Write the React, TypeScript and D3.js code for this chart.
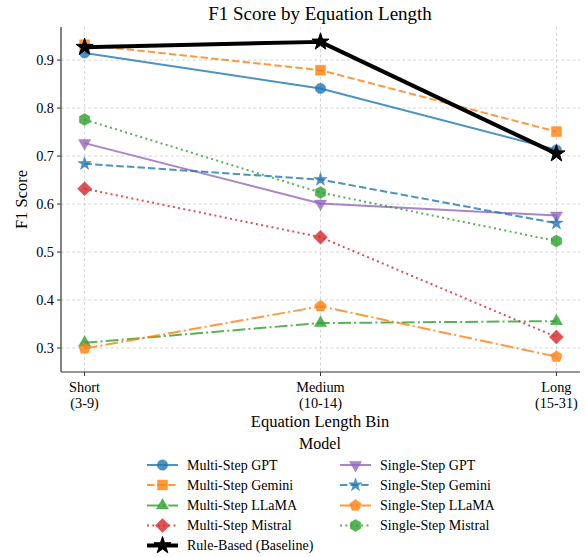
import React from "react";
import * as d3 from "d3";

const bins = ["Short\n(3-9)", "Medium\n(10-14)", "Long\n(15-31)"];
const yTicks = [0.3, 0.4, 0.5, 0.6, 0.7, 0.8, 0.9];

const multiGPT = [0.915, 0.841, 0.713];
const multiGemini = [0.932, 0.879, 0.751];
const multiLLaMA = [0.311, 0.352, 0.356];
const multiMistral = [0.632, 0.531, 0.323];
const singleGPT = [0.727, 0.601, 0.576];
const singleGemini = [0.684, 0.651, 0.560];
const singleLLaMA = [0.299, 0.387, 0.282];
const singleMistral = [0.776, 0.624, 0.523];
const ruleBased = [0.927, 0.938, 0.705];

const seriesNames = [
  "Multi-Step GPT",
  "Multi-Step Gemini",
  "Multi-Step LLaMA",
  "Multi-Step Mistral",
  "Single-Step GPT",
  "Single-Step Gemini",
  "Single-Step LLaMA",
  "Single-Step Mistral",
  "Rule-Based (Baseline)"
];
const seriesValues = [
  multiGPT, multiGemini, multiLLaMA, multiMistral,
  singleGPT, singleGemini, singleLLaMA, singleMistral, ruleBased
];

const blue = "#1f77b4";
const orange = "#ff7f0e";
const green = "#2ca02c";
const red = "#d62728";
const purple = "#9467bd";

const dashed = "7.4,3.2";
const dashdot = "12.8,3.2,2,3.2";
const dotted = "2,3.3";

const styles = [
  { color: blue, dash: null, marker: "circle" },
  { color: orange, dash: dashed, marker: "square" },
  { color: green, dash: dashdot, marker: "triUp" },
  { color: red, dash: dotted, marker: "diamond" },
  { color: purple, dash: null, marker: "triDown" },
  { color: blue, dash: dashed, marker: "star" },
  { color: orange, dash: dashdot, marker: "pentagon" },
  { color: green, dash: dotted, marker: "hexagon" },
  { color: "#000", dash: null, marker: "star", width: 4, big: true }
];

const font = "'Liberation Serif', 'Times New Roman', serif";

function polygon(n: number, r: number, rot: number) {
  const pts: string[] = [];
  for (let i = 0; i < n; i++) {
    const a = rot + (i * 2 * Math.PI) / n;
    pts.push(`${(r * Math.sin(a)).toFixed(2)},${(-r * Math.cos(a)).toFixed(2)}`);
  }
  return "M" + pts.join("L") + "Z";
}

function starPath(r: number) {
  const pts: string[] = [];
  const inner = r * 0.38;
  for (let i = 0; i < 10; i++) {
    const rr = i % 2 === 0 ? r : inner;
    const a = (i * Math.PI) / 5;
    pts.push(`${(rr * Math.sin(a)).toFixed(2)},${(-rr * Math.cos(a)).toFixed(2)}`);
  }
  return "M" + pts.join("L") + "Z";
}

function markerPath(kind: string, big?: boolean) {
  switch (kind) {
    case "circle": return d3.symbol(d3.symbolCircle, 85)()!;
    case "square": return polygon(4, 7, Math.PI / 4);
    case "diamond": return polygon(4, 7, 0);
    case "triUp": return polygon(3, 7, 0);
    case "triDown": return polygon(3, 7, Math.PI);
    case "pentagon": return polygon(5, 6, 0);
    case "hexagon": return polygon(6, 6, 0);
    case "star": return starPath(big ? 9 : 7);
  }
  return "";
}

const Marker = ({ x, y, s }: any) => (
  <path
    d={markerPath(s.marker, s.big)}
    transform={`translate(${x},${y})`}
    fill={s.color}
    fillOpacity={s.big ? 1 : 0.8}
    stroke={s.color}
    strokeOpacity={s.big ? 1 : 0.8}
    strokeWidth={s.big ? 1 : 0.5}
  />
);

export default function App() {
  const W = 585, H = 557;
  const left = 61, right = 580, top = 27, bottom = 372;
  const x = d3.scaleLinear().domain([-0.1, 2.1]).range([left, right]);
  const y = d3.scaleLinear().domain([0.25, 0.969]).range([bottom, top]);
  const line = d3.line<number>().x((_, i) => x(i)).y(d => y(d));

  const legendRows = [465, 485, 505.5, 525.5, 545.5];
  const legendCols = [147, 340];
  const legendPos = seriesNames.map((_, i) =>
    i < 4 ? [legendCols[0], legendRows[i]] : i < 8 ? [legendCols[1], legendRows[i - 4]] : [legendCols[0], legendRows[4]]
  );

  return (
    <svg width={W} height={H} style={{ position: "absolute", left: 0, top: 0 }} fontFamily={font}>
      <rect width={W} height={H} fill="#fff" />
      <text x={320} y={20} textAnchor="middle" fontSize={19}>F1 Score by Equation Length</text>

      {yTicks.map(t => (
        <line key={"gy" + t} x1={left} x2={right} y1={y(t)} y2={y(t)} stroke="#ccc" strokeWidth={0.8} strokeDasharray="3,2.5" />
      ))}
      {bins.map((_, i) => (
        <line key={"gx" + i} x1={x(i)} x2={x(i)} y1={top} y2={bottom} stroke="#ccc" strokeWidth={0.8} strokeDasharray="3,2.5" />
      ))}

      {seriesValues.map((vals, k) => {
        const s = styles[k];
        return (
          <g key={k}>
            <path
              d={line(vals)!}
              fill="none"
              stroke={s.color}
              strokeOpacity={s.big ? 1 : 0.8}
              strokeWidth={s.width || 2}
              strokeDasharray={s.dash || undefined}
              strokeLinejoin="round"
            />
            {vals.map((v, i) => <Marker key={i} x={x(i)} y={y(v)} s={s} />)}
          </g>
        );
      })}

      <line x1={left} x2={left} y1={top} y2={bottom} stroke="#333" strokeWidth={1.2} />
      <line x1={left} x2={right} y1={bottom} y2={bottom} stroke="#333" strokeWidth={1.2} />

      {yTicks.map(t => (
        <g key={"ty" + t}>
          <line x1={left - 4} x2={left} y1={y(t)} y2={y(t)} stroke="#333" />
          <text x={left - 7} y={y(t)} dy="0.35em" textAnchor="end" fontSize={14.3}>{t.toFixed(1)}</text>
        </g>
      ))}
      {bins.map((b, i) => (
        <g key={"tx" + i}>
          <line x1={x(i)} x2={x(i)} y1={bottom} y2={bottom + 4} stroke="#333" />
          {b.split("\n").map((ln, j) => (
            <text key={j} x={x(i)} y={bottom + 20 + j * 15.5} textAnchor="middle" fontSize={14.3}>{ln}</text>
          ))}
        </g>
      ))}

      <text transform={`translate(27,${(top + bottom) / 2}) rotate(-90)`} textAnchor="middle" fontSize={16.5}>F1 Score</text>
      <text x={320} y={427} textAnchor="middle" fontSize={16.5}>Equation Length Bin</text>
      <text x={320} y={449} textAnchor="middle" fontSize={16}>Model</text>

      {seriesNames.map((name, k) => {
        const s = styles[k];
        const [lx, ly] = legendPos[k];
        return (
          <g key={"lg" + k}>
            <line x1={lx} x2={lx + 31} y1={ly} y2={ly} stroke={s.color} strokeOpacity={s.big ? 1 : 0.8}
              strokeWidth={s.width || 2} strokeDasharray={s.dash || undefined} />
            <Marker x={lx + 15.5} y={ly} s={s} />
            <text x={lx + 40} y={ly} dy="0.35em" fontSize={14}>{name}</text>
          </g>
        );
      })}
    </svg>
  );
}
